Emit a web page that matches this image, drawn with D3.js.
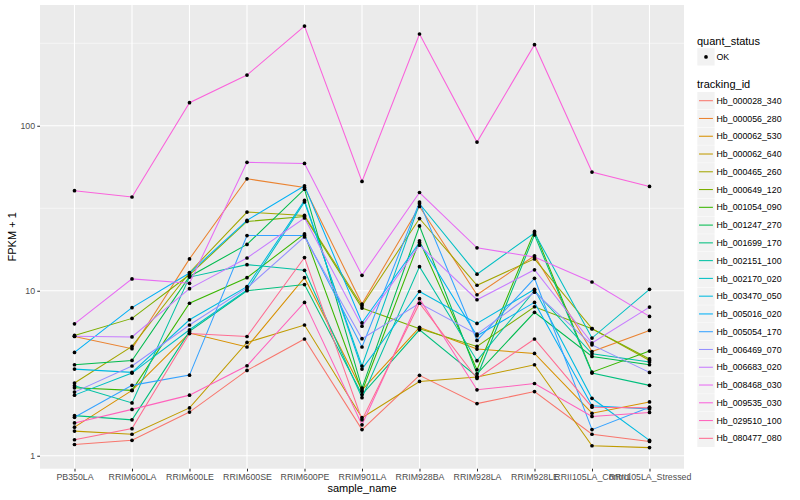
<!DOCTYPE html>
<html><head><meta charset="utf-8">
<script src="https://cdn.jsdelivr.net/npm/d3@7"></script>
<style>body{margin:0;background:#fff}svg{display:block}text{font-family:"Liberation Sans",Arial,Helvetica,sans-serif}</style>
</head><body><svg id="c" width="800" height="500"></svg>
<script>
const samples = ["PB350LA","RRIM600LA","RRIM600LE","RRIM600SE","RRIM600PE","RRIM901LA","RRIM928BA","RRIM928LA","RRIM928LE","RRII105LA_Control","RRII105LA_Stressed"];
const trackingIds = ["Hb_000028_340","Hb_000056_280","Hb_000062_530","Hb_000062_640","Hb_000465_260","Hb_000649_120","Hb_001054_090","Hb_001247_270","Hb_001699_170","Hb_002151_100","Hb_002170_020","Hb_003470_050","Hb_005016_020","Hb_005054_170","Hb_006469_070","Hb_006683_020","Hb_008468_030","Hb_009535_030","Hb_029510_100","Hb_080477_080"];
const colors = ["#F8766D","#EA8331","#D89000","#C09B00","#A3A500","#7CAE00","#39B600","#00BB4E","#00BF7D","#00C1A3","#00BFC4","#00BAE0","#00B0F6","#35A2FF","#9590FF","#C77CFF","#E76BF3","#FA62DB","#FF62BC","#FF6C91"];
// FPKM + 1 values, one array per tracking_id, in sample order
const Hb_000028_340 = [1.17, 1.24, 1.84, 3.29, 5.1, 1.44, 3.07, 2.07, 2.45, 1.35, 1.22];
const Hb_000056_280 = [5.28, 4.45, 15.6, 47.7, 42.3, 8.3, 32.4, 9.46, 16.3, 4.28, 5.75];
const Hb_000062_530 = [1.49, 2.49, 5.54, 4.56, 12.0, 2.5, 6.0, 4.43, 4.17, 1.81, 2.12];
const Hb_000062_640 = [1.41, 1.35, 1.95, 4.86, 6.2, 1.7, 2.82, 3.0, 3.56, 1.15, 1.12];
const Hb_000465_260 = [2.76, 4.6, 12.9, 30, 28.6, 8.1, 27.4, 10.8, 15.6, 5.89, 3.78];
const Hb_000649_120 = [5.36, 6.8, 12.5, 26.3, 28.2, 7.85, 5.89, 4.6, 8.0, 5.89, 3.86];
const Hb_001054_090 = [2.58, 2.49, 8.4, 12.0, 22.1, 2.45, 20.1, 3.32, 22.9, 3.21, 4.31];
const Hb_001247_270 = [3.56, 3.78, 12.2, 19.1, 41.3, 2.57, 24.7, 3.14, 7.4, 4.0, 3.56];
const Hb_001699_170 = [1.75, 1.65, 5.67, 10.0, 10.9, 2.35, 5.8, 3.02, 21.8, 3.17, 2.67];
const Hb_002151_100 = [2.66, 2.09, 12.1, 14.4, 13.3, 2.25, 14.0, 3.77, 10.0, 4.15, 3.7];
const Hb_002170_020 = [2.33, 3.17, 5.8, 10.1, 34.5, 3.5, 33.7, 12.6, 22.4, 5.17, 10.2];
const Hb_003470_050 = [3.35, 3.2, 6.67, 10.6, 35.3, 3.35, 9.9, 6.34, 10.2, 2.23, 1.24];
const Hb_005016_020 = [4.23, 7.9, 12.8, 26.7, 43.3, 6.4, 19.6, 5.34, 8.5, 2.01, 1.92];
const Hb_005054_170 = [1.71, 2.67, 3.08, 21.6, 21.6, 4.56, 34.5, 5.0, 11.9, 1.44, 1.97];
const Hb_006469_070 = [2.43, 3.5, 6.2, 10.4, 21.2, 5.12, 8.4, 5.46, 9.8, 4.7, 3.2];
const Hb_006683_020 = [5.3, 5.25, 10.3, 15.8, 27.6, 6.1, 18.9, 8.82, 13.4, 4.82, 7.96];
const Hb_008468_030 = [6.3, 11.8, 11.1, 60, 59.1, 12.4, 39.4, 18.2, 16.0, 11.3, 6.99];
const Hb_009535_030 = [40.4, 37, 138, 203, 402, 46, 360, 79.6, 310, 52.4, 42.9];
const Hb_029510_100 = [1.58, 1.91, 2.33, 3.51, 8.5, 1.54, 8.95, 2.51, 2.74, 1.73, 1.83];
const Hb_080477_080 = [1.25, 1.46, 5.5, 5.28, 15.9, 1.65, 8.4, 2.94, 5.1, 1.97, 1.95];
const seriesValues = [Hb_000028_340,Hb_000056_280,Hb_000062_530,Hb_000062_640,Hb_000465_260,Hb_000649_120,Hb_001054_090,Hb_001247_270,Hb_001699_170,Hb_002151_100,Hb_002170_020,Hb_003470_050,Hb_005016_020,Hb_005054_170,Hb_006469_070,Hb_006683_020,Hb_008468_030,Hb_009535_030,Hb_029510_100,Hb_080477_080];
const yTicks = [1, 10, 100];
const quantStatus = ["OK"];

const series = trackingIds.map((id, i) => ({id, color: colors[i], values: seriesValues[i].map((v, j) => ({s: samples[j], v}))}));

const svg = d3.select("#c");
const P = {l: 40, r: 684, t: 5, b: 468.7};

const all = seriesValues.flat();
const lmin = Math.log10(d3.min(all)), lmax = Math.log10(d3.max(all));
const ex = (lmax - lmin) * 0.05;
const y = d3.scaleLog().domain([Math.pow(10, lmin - ex), Math.pow(10, lmax + ex)]).range([P.b, P.t]);
const x = d3.scalePoint().domain(samples).range([P.l, P.r]).padding(0.6);

svg.append("rect").attr("x", P.l).attr("y", P.t).attr("width", P.r - P.l).attr("height", P.b - P.t).attr("fill", "#EBEBEB");

const minor = [Math.sqrt(10), Math.sqrt(1000), Math.sqrt(100000)];
const g = svg.append("g");
g.selectAll(".mn").data(minor).join("line").attr("x1", P.l).attr("x2", P.r)
  .attr("y1", d => y(d)).attr("y2", d => y(d)).attr("stroke", "#fff").attr("stroke-width", 0.55);
g.selectAll(".mj").data(yTicks).join("line").attr("x1", P.l).attr("x2", P.r)
  .attr("y1", d => y(d)).attr("y2", d => y(d)).attr("stroke", "#fff").attr("stroke-width", 1.1);
g.selectAll(".vx").data(samples).join("line").attr("y1", P.t).attr("y2", P.b)
  .attr("x1", d => x(d)).attr("x2", d => x(d)).attr("stroke", "#fff").attr("stroke-width", 1.1);

const line = d3.line().x(d => x(d.s)).y(d => y(d.v));
svg.append("g").selectAll("path").data(series).join("path")
  .attr("d", d => line(d.values)).attr("fill", "none").attr("stroke", d => d.color).attr("stroke-width", 1.05);

svg.append("g").selectAll("g").data(series).join("g").selectAll("circle").data(d => d.values).join("circle")
  .attr("cx", d => x(d.s)).attr("cy", d => y(d.v)).attr("r", 1.85).attr("fill", "#000");

// axes
const ya = svg.append("g").attr("transform", `translate(${P.l},0)`)
  .call(d3.axisLeft(y).tickValues(yTicks).tickFormat(d3.format("d")).tickSize(2.75).tickPadding(2.2));
const xa = svg.append("g").attr("transform", `translate(0,${P.b})`)
  .call(d3.axisBottom(x).tickSize(2.75).tickPadding(2.2));
[ya, xa].forEach(a => {
  a.select(".domain").remove();
  a.selectAll(".tick line").attr("stroke", "#333").attr("stroke-width", 1.05);
  a.selectAll(".tick text").attr("fill", "#4D4D4D").style("font-size", "8.8px").style("font-family", '"Liberation Sans",Arial,sans-serif');
});

svg.append("text").attr("x", (P.l + P.r) / 2).attr("y", 492).attr("text-anchor", "middle")
  .style("font-size", "11px").attr("fill", "#000").text("sample_name");
svg.append("text").attr("transform", `translate(16,${(P.t + P.b) / 2}) rotate(-90)`).attr("text-anchor", "middle")
  .style("font-size", "11px").attr("fill", "#000").text("FPKM + 1");

// legends
const L = svg.append("g");
L.append("text").attr("x", 697).attr("y", 44.5).style("font-size", "11px").text("quant_status");
const qk = L.selectAll(".q").data(quantStatus).join("g");
qk.append("rect").attr("x", 697.3).attr("y", 48.2).attr("width", 17.3).attr("height", 17.3).attr("fill", "#F2F2F2");
qk.append("circle").attr("cx", 706).attr("cy", 56.9).attr("r", 1.85).attr("fill", "#000");
qk.append("text").attr("x", 716.5).attr("y", 60).style("font-size", "8.8px").text(d => d);

L.append("text").attr("x", 697).attr("y", 88).style("font-size", "11px").text("tracking_id");
const step = 17.77;
const kg = L.selectAll(".k").data(series).join("g").attr("transform", (d, i) => `translate(697.3,${100.7 + i * step - 8.65})`);
kg.append("rect").attr("width", 17.3).attr("height", 17.3).attr("fill", "#F2F2F2");
kg.append("line").attr("x1", 1.7).attr("x2", 15.6).attr("y1", 8.65).attr("y2", 8.65).attr("stroke", d => d.color).attr("stroke-width", 1.05);
kg.append("text").attr("x", 19.2).attr("y", 11.8).style("font-size", "8.8px").text(d => d.id);
</script></body></html>
